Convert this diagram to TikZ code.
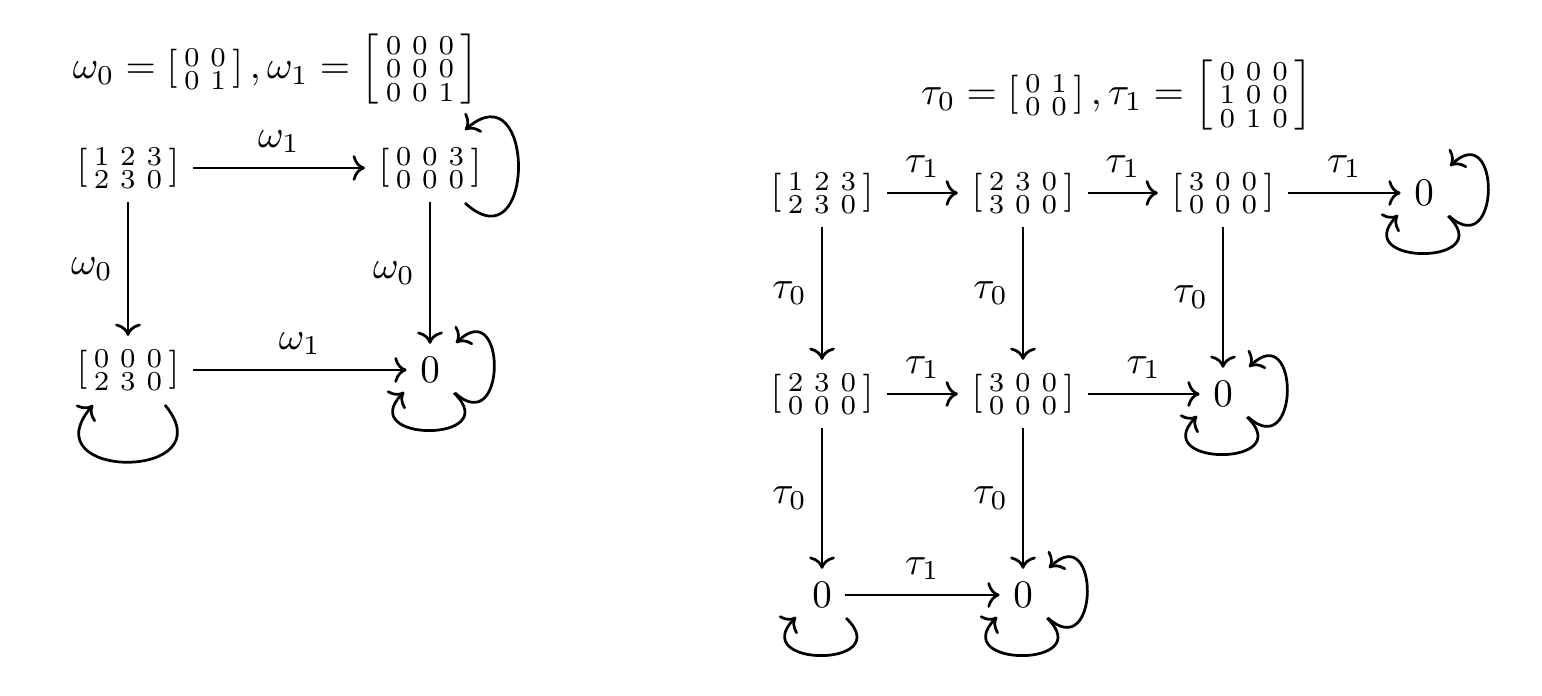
\documentclass[tikz,border=0pt]{standalone}
\usepackage{amsmath}
\usetikzlibrary{arrows.meta}
\newcommand\smat[1]{\left[\begin{smallmatrix}#1\end{smallmatrix}\right]}
\begin{document}
\begin{tikzpicture}[x=0.2564pt,y=-0.2564pt,
  obj/.style={inner sep=3.5pt, outer sep=0pt},
  arr/.style={->, line width=0.7pt},
  lbl/.style={inner sep=3.5pt},
  ttl/.style={inner sep=0pt}
]
\useasboundingbox (0,0) rectangle (1542,696);
% ---------- left diagram ----------
\node[ttl] (T1) at (276,69) {$\omega_0 = \smat{0&0\\0&1}, \omega_1 = \smat{0&0&0\\0&0&0\\0&0&1}$};
\node[obj] (A) at (128,168) {$\smat{1&2&3\\2&3&0}$};
\node[obj] (B) at (430,168) {$\smat{0&0&3\\0&0&0}$};
\node[obj] (C) at (128,370) {$\smat{0&0&0\\2&3&0}$};
\node[obj] (D) at (430,370) {$0$};
\draw[arr] (A) -- node[above,lbl]{$\omega_1$} (B);
\draw[arr] (A) -- node[left,lbl]{$\omega_0$} (C);
\draw[arr] (B) -- node[left,lbl]{$\omega_0$} (D);
\draw[arr] (C) -- node[above,lbl]{$\omega_1$} (D);
% big loops
\draw[arr] ([shift={(35,35)}]B.center) .. controls +(71,65) and +(71,-62) .. ([shift={(35,-38)}]B.center);
\draw[arr] ([shift={(37,35)}]C.center) .. controls +(63,76) and +(-65,76) .. ([shift={(-35,35)}]C.center);
% small loops
\draw[arr] ([shift={(25,23)}]D.center) .. controls +(52,47) and +(51,-49) .. ([shift={(26,-27)}]D.center);
\draw[arr] ([shift={(24,23)}]D.center) .. controls +(52,50) and +(-50,51) .. ([shift={(-26,22)}]D.center);
% ---------- right diagram ----------
\node[ttl] (T2) at (1117,95) {$\tau_0 = \smat{0&1\\0&0}, \tau_1 = \smat{0&0&0\\1&0&0\\0&1&0}$};
\node[obj] (N11) at (822,193) {$\smat{1&2&3\\2&3&0}$};
\node[obj] (N12) at (1023,193) {$\smat{2&3&0\\3&0&0}$};
\node[obj] (N13) at (1223,193) {$\smat{3&0&0\\0&0&0}$};
\node[obj] (N14) at (1424,193) {$0$};
\node[obj] (N21) at (822,394) {$\smat{2&3&0\\0&0&0}$};
\node[obj] (N22) at (1023,394) {$\smat{3&0&0\\0&0&0}$};
\node[obj] (N23) at (1223,394) {$0$};
\node[obj] (N31) at (822,595) {$0$};
\node[obj] (N32) at (1023,595) {$0$};
\draw[arr] (N11) -- node[above,lbl]{$\tau_1$} (N12);
\draw[arr] (N12) -- node[above,lbl]{$\tau_1$} (N13);
\draw[arr] (N13) -- node[above,lbl]{$\tau_1$} (N14);
\draw[arr] (N21) -- node[above,lbl]{$\tau_1$} (N22);
\draw[arr] (N22) -- node[above,lbl]{$\tau_1$} (N23);
\draw[arr] (N31) -- node[above,lbl]{$\tau_1$} (N32);
\draw[arr] (N11) -- node[left,lbl]{$\tau_0$} (N21);
\draw[arr] (N12) -- node[left,lbl]{$\tau_0$} (N22);
\draw[arr] (N13) -- node[left,lbl]{$\tau_0$} (N23);
\draw[arr] (N21) -- node[left,lbl]{$\tau_0$} (N31);
\draw[arr] (N22) -- node[left,lbl]{$\tau_0$} (N32);
% loops on zero nodes
\foreach \n in {N14,N23,N32} {
  \draw[arr] ([shift={(25,23)}]\n.center) .. controls +(52,47) and +(51,-49) .. ([shift={(26,-27)}]\n.center);
}
\foreach \n in {N14,N23,N31,N32} {
  \draw[arr] ([shift={(24,23)}]\n.center) .. controls +(52,50) and +(-50,51) .. ([shift={(-26,22)}]\n.center);
}
\end{tikzpicture}
\end{document}
